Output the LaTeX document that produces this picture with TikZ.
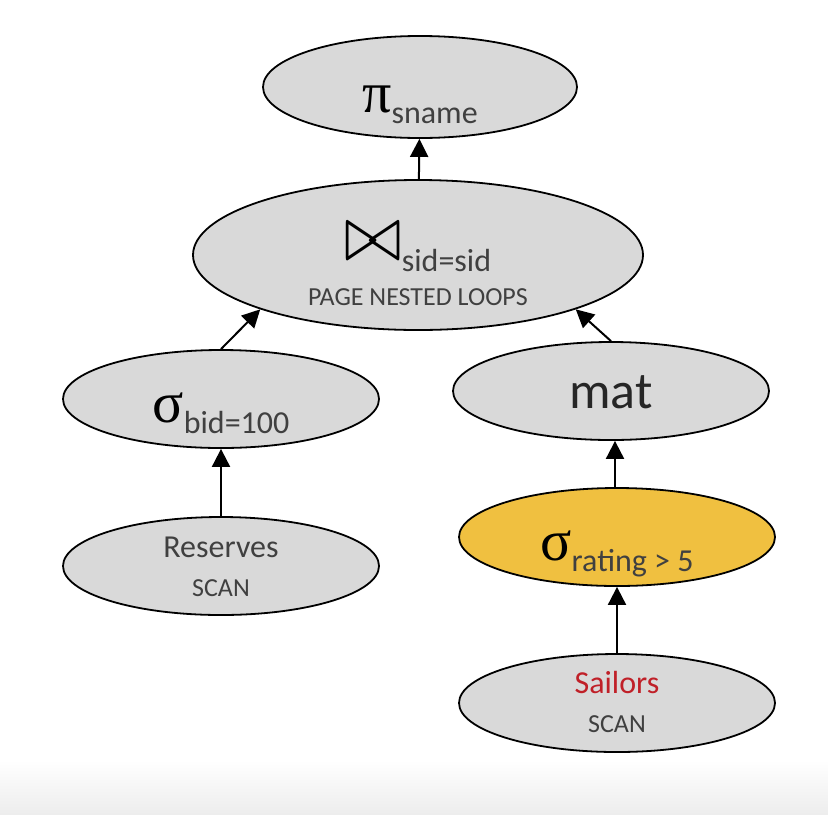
\documentclass[tikz,border=0pt]{standalone}
\usepackage{fontspec}
\setmainfont{Carlito}
\newfontfamily\greekfont{Liberation Serif}
\usetikzlibrary{shapes.geometric,arrows.meta}

\definecolor{opgray}{RGB}{217,217,217}
\definecolor{opyellow}{RGB}{240,192,64}
\definecolor{relred}{RGB}{192,32,40}
\definecolor{labgray}{RGB}{64,64,64}

% text of an operator: baseline put #1 below the centre of the ellipse
\newcommand\lowerby[2]{\raisebox{-#1}[0pt][0pt]{#2}}
\newcommand\subtxt[1]{\raisebox{-5.5pt}{\fontsize{16}{19}\selectfont\color{labgray}#1}}
\newcommand\greek[1]{{\greekfont\fontsize{29}{31}\selectfont #1}}
\newcommand\bowsym{\resizebox{28.5pt}{18.5pt}{$\bowtie$}}
% two centred lines, the upper one raised by #1
\newcommand\twoline[3]{\makebox[0pt]{\raisebox{#1}{#2}}\makebox[0pt]{#3}}

\tikzset{
  opnode/.style={ellipse,draw=black,line width=0.9pt,fill=opgray,inner sep=0pt,
    minimum width=158pt,minimum height=49pt},
  hilite/.style={fill=opyellow},
  arr/.style={-{Triangle[length=9pt,width=9pt]},line width=1pt}
}

\begin{document}
\begin{tikzpicture}[x=0.5pt,y=-0.5pt]
  \useasboundingbox (0,0) rectangle (828,814);
  % faint band at the foot
  \shade[top color=white,bottom color=black!7] (0,760) rectangle (828,814);

  % operators
  \node[opnode,minimum width=157pt,minimum height=51pt] (proj) at (420,87)
    {\lowerby{12.5pt}{\greek{π}\subtxt{sname}}};
  \node[opnode,minimum width=225pt,minimum height=75pt] (join) at (418,255)
    {\lowerby{25pt}{\twoline{22.5pt}{\bowsym\subtxt{sid=sid}}
      {\fontsize{13}{16}\selectfont\color{labgray}PAGE NESTED LOOPS}}};
  \node[opnode] (selbid) at (221,399) {\lowerby{11.5pt}{\greek{σ}\subtxt{bid=100}}};
  \node[opnode] (mat) at (611,391)
    {\lowerby{8.5pt}{\fontsize{26}{30}\selectfont\color{black!85}mat}};
  \node[opnode,hilite] (selrating) at (617,537)
    {\lowerby{11.5pt}{\greek{σ}\subtxt{rating > 5}}};

  % relations
  \node[opnode] (reserves) at (221,566)
    {\lowerby{15pt}{\twoline{19.5pt}{\fontsize{16}{19}\selectfont\color{labgray}Reserves}
      {\fontsize{13}{15}\selectfont\color{labgray}SCAN}}};
  \node[opnode] (sailors) at (617,703)
    {\lowerby{14.5pt}{\twoline{19.5pt}{\fontsize{16}{19}\selectfont\color{relred}Sailors}
      {\fontsize{13}{15}\selectfont\color{labgray}SCAN}}};

  % data flow
  \draw[arr] (join) -- (proj);
  \draw[arr] (selbid.north) -- (join.199);
  \draw[arr] (mat.north) -- (join.341);
  \draw[arr] (reserves) -- (selbid);
  \draw[arr] ([xshift=-1pt]selrating.north) -- ([xshift=-1pt]selrating.north |- mat.south);
  \draw[arr] (sailors) -- (selrating);
\end{tikzpicture}
\end{document}
